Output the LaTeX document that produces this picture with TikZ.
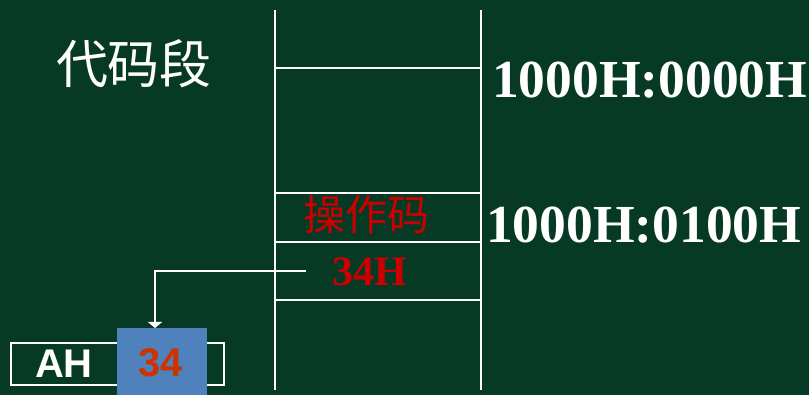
\documentclass[tikz,border=0pt]{standalone}
\usepackage{fontspec}
\setmainfont{Liberation Serif}
\newfontfamily\cjk{Noto Sans CJK SC}
\newfontfamily\arialf{Liberation Sans}
\usetikzlibrary{arrows.meta}
\definecolor{bg}{RGB}{7,58,36}
\definecolor{boxblue}{RGB}{79,129,189}
\definecolor{txtred}{RGB}{204,0,0}
\definecolor{numred}{RGB}{204,51,0}
\begin{document}
\begin{tikzpicture}[x=1pt,y=-1pt,
  wline/.style={draw=white,line width=2pt},
  addr/.style={text=white,font=\fontsize{53.5}{53.5}\selectfont\bfseries,inner sep=0pt,anchor=west},
  redtxt/.style={text=txtred,inner sep=0pt}]
\fill[bg] (0,0) rectangle (809,395);
\useasboundingbox (0,0) rectangle (809,395);
% column
\draw[wline] (275,10) -- (275,390);
\draw[wline] (481,10) -- (481,390);
\foreach \yy in {68,193,242,300} \draw[wline] (275,\yy) -- (481,\yy);
% labels
\node[text=white,inner sep=0pt,font=\cjk\fontsize{52}{52}\selectfont] (seg) at (134,64) {代码段};
\node[addr] (a1) at (492,80) {1000H:0000H};
\node[addr] (a2) at (486,225) {1000H:0100H};
\node[redtxt,font=\cjk\fontsize{42}{42}\selectfont] (op) at (366,215) {操作码};
\node[redtxt,font=\fontsize{42}{42}\selectfont\bfseries] (imm) at (370,272) {34H};
% register
\draw[draw=white,line width=2pt] (11,343) rectangle (224,385);
\fill[boxblue] (117,328) rectangle (207,395);
\node[text=white,inner sep=0pt,font=\arialf\fontsize{40}{40}\selectfont\bfseries] (ah) at (64,364) {AH};
\node[text=numred,inner sep=0pt,font=\arialf\fontsize{40}{40}\selectfont\bfseries] (val) at (161,363) {34};
\coordinate (s) at (306,271);
\coordinate (t) at (155,328);
\draw[draw=white,line width=2pt,-{Triangle[width=14pt,length=6pt]}] (s) -- (155,271) -- (t);
\end{tikzpicture}
\end{document}
